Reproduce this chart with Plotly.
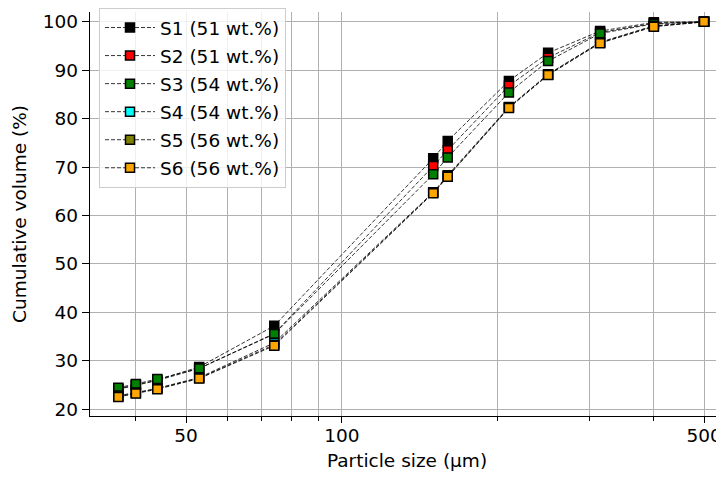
import plotly.graph_objects as go
import numpy as np

# Data
sizes = [37, 40, 44, 53, 74, 150, 160, 210, 250, 315, 400, 500]
S1 = [24.2, 25.0, 26.0, 28.7, 37.2, 71.8, 75.4, 87.8, 93.6, 98.1, 99.9, 100]
S2 = [24.1, 24.9, 25.9, 28.4, 35.6, 70.2, 73.5, 86.8, 92.6, 97.8, 99.7, 100]
S3 = [24.4, 25.2, 26.2, 28.4, 35.5, 68.5, 72.0, 85.4, 91.9, 97.6, 99.6, 100]
S4 = [22.8, 23.4, 24.3, 26.5, 33.7, 64.8, 68.3, 82.4, 89.2, 95.8, 99.2, 100]
S5 = [22.6, 23.3, 24.2, 26.4, 33.3, 64.7, 68.1, 82.3, 89.1, 95.7, 99.1, 100]
S6 = [22.5, 23.2, 24.1, 26.3, 33.1, 64.6, 68.0, 82.2, 89.0, 95.6, 99.0, 100]
series_names = ["S1 (51 wt.%)", "S2 (51 wt.%)", "S3 (54 wt.%)",
                "S4 (54 wt.%)", "S5 (56 wt.%)", "S6 (56 wt.%)"]
series_colors = ["#000000", "#ff0000", "#008000", "#00ffff", "#808000", "#ffa500"]
x_major = [50, 100, 500]
x_minor = [40, 60, 70, 80, 90, 200, 300, 400]
y_ticks = [20, 30, 40, 50, 60, 70, 80, 90, 100]

FONT = "DejaVu Sans"
FS = 18.5
fig = go.Figure()
for i, (name, vals, col) in enumerate(zip(series_names, [S1, S2, S3, S4, S5, S6], series_colors)):
    fig.add_trace(go.Scatter(
        x=sizes, y=vals, name=name, mode="lines+markers",
        legendgroup=f"g{i}",
        line=dict(color="#000000", width=0.8, dash="4px,2px"),
        marker=dict(symbol="square", size=9, color=col,
                    line=dict(color="#000000", width=1.5)),
    ))

# page body has an 8px offset; figure sized to fit the remaining viewport
fig.update_layout(
    width=716, height=477,
    margin=dict(l=82, r=0, t=0, b=69),
    paper_bgcolor="white", plot_bgcolor="white",
    font=dict(family=FONT, size=FS, color="#000000"),
    showlegend=True,
    legend=dict(
        x=0.0142, y=1.01, xanchor="left", yanchor="top",
        bgcolor="rgba(255,255,255,0.8)", bordercolor="#cccccc", borderwidth=1,
        font=dict(family=FONT, size=FS, color="#000000"),
        tracegroupgap=1, itemwidth=50,
    ),
    xaxis=dict(
        type="log", automargin=False,
        range=[1.5135, 2.7375],
        tickvals=x_major, ticktext=[str(v) for v in x_major],
        ticks="outside", ticklen=6, tickwidth=1.2, tickcolor="#000000",
        ticklabelstandoff=-3, ticklabeloverflow="allow",
        showline=True, linecolor="#000000", linewidth=1.3, mirror=False,
        showgrid=True, gridcolor="#b0b0b0", gridwidth=1.2,
        minor=dict(tickvals=x_minor, ticks="outside", ticklen=4, tickwidth=1,
                   tickcolor="#000000", showgrid=True, gridcolor="#b0b0b0", gridwidth=1.2),
        zeroline=False,
        title=dict(text="Particle size (μm)", standoff=8,
                   font=dict(family=FONT, size=FS, color="#000000")),
        tickfont=dict(family=FONT, size=FS, color="#000000"),
    ),
    yaxis=dict(
        automargin=False,
        range=[18.57, 102.04],
        tickvals=y_ticks,
        ticks="outside", ticklen=7, tickwidth=1.2, tickcolor="#000000",
        ticklabeloverflow="allow",
        showline=True, linecolor="#000000", linewidth=1.3, mirror=False,
        showgrid=True, gridcolor="#b0b0b0", gridwidth=1.2,
        zeroline=False,
        title=dict(text="Cumulative volume (%)", standoff=11,
                   font=dict(family=FONT, size=FS, color="#000000")),
        tickfont=dict(family=FONT, size=FS, color="#000000"),
    ),
)

fig.write_html("out.html")
